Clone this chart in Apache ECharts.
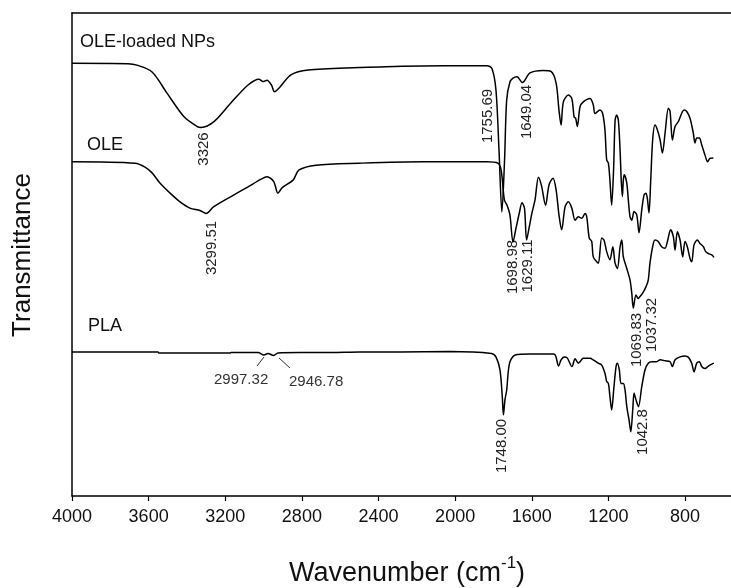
<!DOCTYPE html>
<html>
<head>
<meta charset="utf-8">
<script src="https://cdn.jsdelivr.net/npm/echarts@6/dist/echarts.min.js"></script>
<style>
    html, body {margin:0; padding:0; background:#fff;}
    #main {width:731px; height:588px;}
</style>
</head>
<body>
<div id="main"></div>
<script>
// wavenumber (cm-1), transmittance (offset, a.u.)
var npsData = [
    [4000,89.6],[3708,89.5],[3661,89.2],[3582,87.8],[3504,83.4],[3415,78.5],[3347,76.5],[3326,76.3],
    [3259,77.5],[3170,81.4],[3081,85.1],[3024,86.3],[3003,85.8],[2982,86.1],[2959,85.1],[2943,83.7],
    [2914,84.7],[2857,87.2],[2768,88.2],[2502,88.7],[2277,89.0],[1834,89.1],[1808,88.5],[1787,84.1],
    [1771,71.6],[1756,58.8],[1742,69.6],[1731,82.0],[1714,85.7],[1698,86.5],[1677,86.8],[1649,85.6],
    [1609,87.6],[1541,88.1],[1500,87.9],[1473,85.5],[1458,79.9],[1447,76.8],[1435,81.6],[1409,83.0],
    [1391,82.3],[1379,78.5],[1371,78.2],[1362,76.5],[1348,80.6],[1331,81.6],[1296,82.3],[1279,81.0],
    [1270,79.2],[1244,79.9],[1230,79.2],[1218,75.8],[1209,69.6],[1200,68.9],[1192,65.4],[1183,60.2],
    [1173,67.5],[1165,77.8],[1157,78.9],[1148,77.8],[1139,71.6],[1133,65.4],[1127,62.0],[1122,65.4],
    [1117,66.5],[1104,64.8],[1096,61.3],[1087,57.8],[1078,57.1],[1066,58.9],[1052,58.2],[1040,54.5],
    [1026,59.2],[1014,62.3],[1004,62.7],[997,61.7],[988,58.6],[979,65.4],[969,73.7],[957,76.8],
    [944,75.8],[930,73.7],[918,71.0],[904,75.2],[887,80.3],[878,79.6],[866,73.7],[852,76.5],
    [835,77.5],[805,79.9],[791,79.6],[774,78.2],[757,75.2],[748,73.1],[739,74.1],[725,74.1],
    [713,72.7],[696,70.6],[682,69.2],[670,69.9],[652,70.0]
];
var oleData = [
    [4000,69.2],[3671,68.9],[3619,68.1],[3582,66.9],[3541,64.8],[3488,62.7],[3436,60.9],[3384,59.6],
    [3332,59.1],[3299.5,58.5],[3260,59.9],[3170,62.0],[3081,64.0],[3013,65.6],[2982,66.1],[2947,65.1],
    [2925,62.7],[2904,63.8],[2846,65.4],[2815,67.5],[2726,68.5],[2502,68.9],[2168,69.2],[1834,69.2],
    [1777,68.9],[1760,67.5],[1743,61.3],[1729,60.2],[1714,58.2],[1698,52.6],[1682,55.5],[1665,58.6],
    [1651,60.7],[1638,59.6],[1627,53.0],[1614,55.5],[1599,58.6],[1583,61.3],[1565,66.0],[1549,64.2],
    [1528,60.2],[1510,64.4],[1489,65.8],[1473,63.4],[1458,58.2],[1444,55.1],[1426,59.9],[1409,60.9],
    [1391,59.6],[1374,57.1],[1357,57.8],[1339,57.5],[1322,58.5],[1313,57.8],[1300,53.4],[1287,52.7],
    [1279,49.5],[1261,48.5],[1252,48.2],[1235,53.4],[1223,53.0],[1209,50.6],[1192,48.9],[1177,51.6],
    [1165,48.2],[1153,47.1],[1139,51.6],[1130,53.0],[1122,49.5],[1104,47.1],[1087,44.7],[1078,42.0],
    [1070,38.9],[1056,41.6],[1044,40.9],[1035,41.3],[1021,42.0],[1004,43.3],[992,44.7],[983,48.2],
    [969,51.6],[957,53.0],[940,52.7],[922,51.6],[904,51.3],[892,52.7],[875,55.1],[861,53.7],
    [852,50.9],[840,54.7],[826,53.0],[812,49.5],[800,52.7],[788,51.6],[774,49.2],[765,48.5],
    [753,52.0],[736,53.0],[722,52.3],[704,51.6],[692,50.6],[678,50.2],[660,49.9],[649,49.4]
];
var plaData = [
    [4000,29.8],[3551,29.8],[3546,29.6],[3175,29.6],[3170,29.7],[3029,29.7],[2998,29.2],[2977,29.5],
    [2947,29.1],[2925,29.6],[2810,29.7],[2653,29.7],[2497,29.8],[2288,29.8],[2027,29.9],[1810,29.5],
    [1787,28.8],[1766,26.1],[1754,20.6],[1748,16.8],[1740,19.9],[1731,21.9],[1716,27.5],[1687,29.2],
    [1609,29.4],[1486,29.4],[1475,29.0],[1460,26.9],[1447,28.2],[1431,28.8],[1415,28.6],[1390,26.8],
    [1374,28.4],[1357,27.5],[1348,27.8],[1331,28.5],[1296,28.5],[1279,28.2],[1253,27.5],[1235,27.1],
    [1218,25.4],[1209,23.7],[1200,23.3],[1192,20.6],[1183,17.8],[1171,22.6],[1160,26.8],[1153,27.5],
    [1143,26.1],[1134,23.3],[1122,23.3],[1113,21.9],[1104,18.5],[1092,15.7],[1083,13.3],[1073,17.8],
    [1066,21.3],[1056,19.9],[1043,18.5],[1026,22.6],[1009,26.1],[992,27.5],[974,27.8],[948,27.8],
    [930,28.2],[904,28.0],[878,27.8],[866,26.8],[852,28.2],[826,28.8],[800,29.0],[782,28.7],
    [765,27.5],[753,25.7],[739,27.5],[725,27.8],[713,26.8],[696,26.4],[678,26.9],[660,27.3],[649,27.5]
];
var xTickValues = [4000,3600,3200,2800,2400,2000,1600,1200,800];
var seriesNames = ['OLE-loaded NPs','OLE','PLA'];

var font = 'Liberation Sans, Arial, sans-serif';
function vLabel(txt, x, y){
    return {type:'text', x:x, y:y, rotation:Math.PI/2,
        style:{text:txt, fill:'#222', font:'15px ' + font, align:'center', verticalAlign:'middle'}};
}
function hLabel(txt, x, y, size, color){
    return {type:'text', x:x, y:y,
        style:{text:txt, fill:color || '#111', font:size + 'px ' + font, align:'left', verticalAlign:'middle'}};
}
function pointer(x1, y1, x2, y2){
    return {type:'line', shape:{x1:x1, y1:y1, x2:x2, y2:y2}, style:{stroke:'#333', lineWidth:1}};
}

var myChart = echarts.init(document.getElementById('main'));
var lineStyle = {color:'#000', width:1.5};
var option = {
    animation:false,
    backgroundColor:'#fff',
    grid:{left:72, right:0, top:13, bottom:92},
    xAxis:[
        {
            type:'value', inverse:true, min:560, max:4000,
            axisLine:{show:true, lineStyle:{color:'#000', width:1.5}},
            axisTick:{show:true, customValues:xTickValues, length:5, lineStyle:{color:'#000', width:1.2}},
            axisLabel:{customValues:xTickValues, margin:12, color:'#111', fontSize:18, fontFamily:font,
                formatter:function(v){ return String(v); }},
            splitLine:{show:false}
        },
        {
            type:'value', inverse:true, min:560, max:4000, position:'top',
            axisLine:{show:true, onZero:false, lineStyle:{color:'#000', width:1.5}},
            axisTick:{show:false}, axisLabel:{show:false}, splitLine:{show:false}
        }
    ],
    yAxis:{
        type:'value', min:0, max:100,
        axisLine:{show:true, lineStyle:{color:'#000', width:1.5}},
        axisTick:{show:false}, axisLabel:{show:false}, splitLine:{show:false}
    },
    series:[
        {name:seriesNames[0], type:'line', data:npsData, showSymbol:false, smooth:0.3, lineStyle:lineStyle},
        {name:seriesNames[1], type:'line', data:oleData, showSymbol:false, smooth:0.3, lineStyle:lineStyle},
        {name:seriesNames[2], type:'line', data:plaData, showSymbol:false, smooth:0.3, lineStyle:lineStyle}
    ],
    graphic:[
        hLabel(seriesNames[0], 80, 42, 18),
        hLabel(seriesNames[1], 87, 145, 18),
        hLabel(seriesNames[2], 88, 326, 18),
        vLabel('3326', 204, 149),
        vLabel('1755.69', 488, 116),
        vLabel('1649.04', 527, 112),
        vLabel('3299.51', 212, 248),
        vLabel('1698.98', 513, 267),
        vLabel('1629.11', 528, 266),
        vLabel('1069.83', 637, 340),
        vLabel('1037.32', 652, 325),
        vLabel('1748.00', 502, 446),
        vLabel('1042.8', 643, 432),
        hLabel('2997.32', 214, 380, 15, '#333'),
        hLabel('2946.78', 289, 382, 15, '#333'),
        pointer(257, 366, 264, 357),
        pointer(279, 358, 290, 368),
        {type:'text', x:23, y:255, rotation:Math.PI/2,
            style:{text:'Transmittance', fill:'#111', font:'26px ' + font, align:'center', verticalAlign:'middle'}},
        {type:'text', x:407, y:571,
            style:{text:'{m|Wavenumber (cm}{s|-1}{m|)}', align:'center', verticalAlign:'middle',
                rich:{
                    m:{fontSize:27, fontFamily:font, fill:'#111', lineHeight:32, verticalAlign:'bottom'},
                    s:{fontSize:17, fontFamily:font, fill:'#111', lineHeight:32, verticalAlign:'top'}
                }}}
    ]
};
myChart.setOption(option);
</script>
</body>
</html>
